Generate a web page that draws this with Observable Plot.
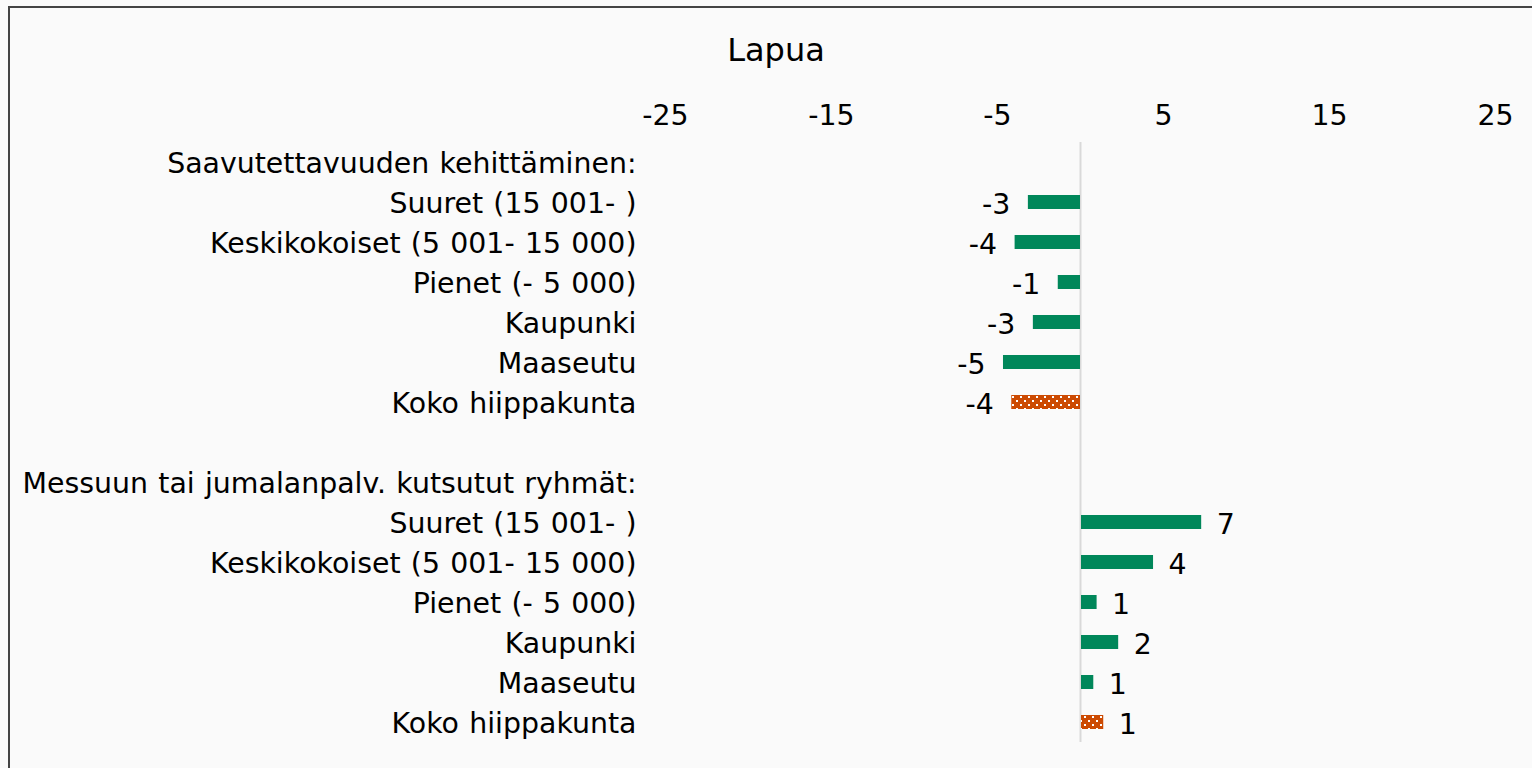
<!DOCTYPE html>
<html><head><meta charset="utf-8">
<script src="https://cdn.jsdelivr.net/npm/d3@7"></script>
<script src="https://cdn.jsdelivr.net/npm/@observablehq/plot@0.6"></script>
<style>
html,body{margin:0;padding:0;background:#fafafa;overflow:hidden;width:1532px;height:768px;position:relative;}
#frame{position:absolute;left:8px;top:6px;width:1700px;height:900px;border-left:2.5px solid #444;border-top:2.5px solid #444;box-sizing:border-box;}
#title{position:absolute;left:0;top:34px;width:1552px;text-align:center;font-family:"DejaVu Sans",Verdana,sans-serif;font-size:32px;line-height:32px;color:#000;}
#chart{position:absolute;left:0;top:0;}
#chart text{word-spacing:1.2px;}
</style></head>
<body><div id="frame"></div><div id="title"></div><div id="chart"></div>
<script>
const title = "Lapua";
const groups = ["Saavutettavuuden kehittäminen:", "Messuun tai jumalanpalv. kutsutut ryhmät:"];
const categories = ["Suuret (15 001- )", "Keskikokoiset (5 001- 15 000)", "Pienet (- 5 000)", "Kaupunki", "Maaseutu", "Koko hiippakunta"];
const valuesAccess = [-3.2, -4.0, -1.4, -2.9, -4.7, -4.2];
const valuesInvited = [7.3, 4.4, 1.0, 2.3, 0.8, 1.4];
const xTicks = [-25, -15, -5, 5, 15, 25];
const green = "#00875A";
const orange = "#CC4A02";

document.getElementById("title").textContent = title;

const series = [valuesAccess, valuesInvited];
const rows = [];
groups.forEach((g, gi) => {
  if (gi > 0) rows.push({key: "blank" + gi, label: "", value: null});
  rows.push({key: "h" + gi, label: g, value: null});
  categories.forEach((c, ci) => rows.push({key: `r${gi}-${ci}`, label: c, value: series[gi][ci], total: ci === categories.length - 1}));
});
const valued = rows.filter(d => d.value != null);
const fmt = v => String(Math.round(v));

const chart = Plot.plot({
  width: 1532, height: 768,
  marginLeft: 665, marginRight: 37, marginTop: 142, marginBottom: 26,
  style: {background: "transparent", fontFamily: "'DejaVu Sans', Verdana, sans-serif", fontSize: "28px", color: "#000"},
  x: {domain: [-25, 25], axis: null},
  y: {domain: rows.map(d => d.key), axis: null, padding: 0},
  marks: [
    Plot.ruleX([0], {stroke: "#d9d9d9", strokeWidth: 2}),
    Plot.barX(valued.filter(d => !d.total), {x: "value", y: "key", fill: green, insetTop: 13, insetBottom: 13, insetLeft: 1}),
    Plot.barX(valued.filter(d => d.total), {x: "value", y: "key", fill: "url(#dots)", insetTop: 13, insetBottom: 13, insetLeft: 1}),
    Plot.text(valued.filter(d => d.value < 0), {x: "value", y: "key", text: d => fmt(d.value), textAnchor: "end", dx: -17, dy: 2, fontSize: 28.4, fill: "#000"}),
    Plot.text(valued.filter(d => d.value >= 0), {x: "value", y: "key", text: d => fmt(d.value), textAnchor: "start", dx: 15, dy: 2, fontSize: 28.4, fill: "#000"}),
    Plot.text(rows, {y: "key", text: "label", frameAnchor: "left", textAnchor: "end", dx: -29, dy: 1, fontSize: 28.4, fill: "#000"}),
    Plot.text(xTicks, {x: d => d, text: d => String(d), frameAnchor: "top", dy: -38, fontSize: 28.4, fill: "#000"})
  ]
});

const svg = d3.select(chart);
const defs = svg.insert("defs", ":first-child");
const pat = defs.append("pattern").attr("id", "dots").attr("width", 8).attr("height", 8).attr("patternUnits", "userSpaceOnUse");
pat.append("rect").attr("width", 8).attr("height", 8).attr("fill", orange);
pat.append("rect").attr("x", 0).attr("y", 0).attr("width", 2).attr("height", 2).attr("fill", "#fff");
pat.append("rect").attr("x", 4).attr("y", 4).attr("width", 2).attr("height", 2).attr("fill", "#fff");

document.getElementById("chart").appendChild(chart);
</script>
</body></html>
